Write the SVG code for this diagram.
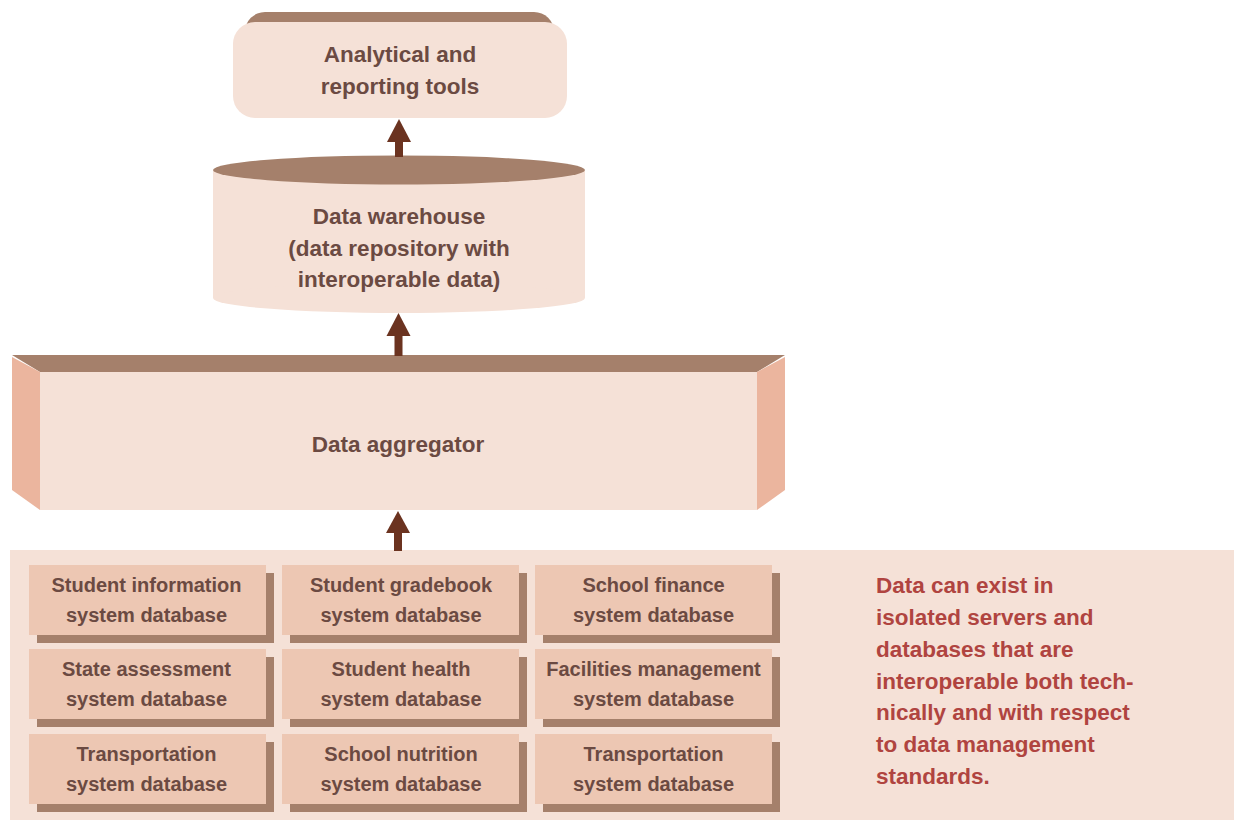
<svg xmlns="http://www.w3.org/2000/svg" width="1234" height="821" viewBox="0 0 1234 821">
<defs>
<style>
.t{font-family:"Liberation Sans",Arial,sans-serif;font-weight:bold;fill:#6b4a42;text-anchor:middle}
.big{font-size:22.5px}
.sm{font-size:20px}
.note{font-family:"Liberation Sans",Arial,sans-serif;font-weight:bold;font-size:22.5px;fill:#b04440}
.dark{fill:#a5806b}
.face{fill:#f5e1d7}
.side{fill:#ebb59e}
.cell{fill:#edc7b3}
.arrow{fill:#6b3320}
</style>
<g id="dbbox">
<rect class="dark" x="8" y="8" width="237" height="70"/>
<rect class="cell" x="0" y="0" width="237" height="70"/>
</g>
</defs>
<rect width="1234" height="821" fill="#ffffff"/>

<g id="sources-panel">
<rect class="face" x="10" y="550" width="1224" height="270"/>
</g>

<g id="tools">
<rect class="dark" x="245" y="12" width="309" height="70" rx="20"/>
<rect class="face" x="233" y="22" width="334" height="96" rx="22"/>
<text class="t big" x="400" y="62">Analytical and</text>
<text class="t big" x="400" y="94">reporting tools</text>
</g>

<g id="warehouse">
<rect class="face" x="213" y="170" width="372" height="128"/>
<ellipse class="face" cx="399" cy="298" rx="186" ry="15"/>
<ellipse class="dark" cx="399" cy="170" rx="186" ry="14.5"/>
<text class="t big" x="399" y="224">Data warehouse</text>
<text class="t big" x="399" y="256">(data repository with</text>
<text class="t big" x="399" y="287">interoperable data)</text>
</g>

<g id="aggregator">
<polygon class="dark" points="12,355 785,355 757,372 40,372"/>
<polygon class="side" points="12,357 40,372 40,510 12,490"/>
<polygon class="side" points="785,357 785,490 757,510 757,372"/>
<rect class="face" x="40" y="372" width="717" height="138"/>
<text class="t big" x="398" y="452">Data aggregator</text>
</g>

<g id="connectors">
<rect class="arrow" x="395" y="138" width="8" height="19"/>
<polygon class="arrow" points="399,119 411,142 387,142"/>
<rect class="arrow" x="394.5" y="333" width="8" height="23"/>
<polygon class="arrow" points="398.5,313 410.5,336 386.5,336"/>
<rect class="arrow" x="394" y="530" width="8" height="21"/>
<polygon class="arrow" points="398,511 410,533 386,533"/>
</g>

<g id="db-student-information">
<use href="#dbbox" x="29" y="565"/>
<text class="t sm" x="146.5" y="592">Student information</text>
<text class="t sm" x="146.5" y="622">system database</text>
</g>
<g id="db-student-gradebook">
<use href="#dbbox" x="282" y="565"/>
<text class="t sm" x="401" y="592">Student gradebook</text>
<text class="t sm" x="401" y="622">system database</text>
</g>
<g id="db-school-finance">
<use href="#dbbox" x="535" y="565"/>
<text class="t sm" x="653.5" y="592">School finance</text>
<text class="t sm" x="653.5" y="622">system database</text>
</g>

<g id="db-state-assessment">
<use href="#dbbox" x="29" y="649"/>
<text class="t sm" x="146.5" y="676">State assessment</text>
<text class="t sm" x="146.5" y="706">system database</text>
</g>
<g id="db-student-health">
<use href="#dbbox" x="282" y="649"/>
<text class="t sm" x="401" y="676">Student health</text>
<text class="t sm" x="401" y="706">system database</text>
</g>
<g id="db-facilities-management">
<use href="#dbbox" x="535" y="649"/>
<text class="t sm" x="653.5" y="676">Facilities management</text>
<text class="t sm" x="653.5" y="706">system database</text>
</g>

<g id="db-transportation-1">
<use href="#dbbox" x="29" y="734"/>
<text class="t sm" x="146.5" y="761">Transportation</text>
<text class="t sm" x="146.5" y="791">system database</text>
</g>
<g id="db-school-nutrition">
<use href="#dbbox" x="282" y="734"/>
<text class="t sm" x="401" y="761">School nutrition</text>
<text class="t sm" x="401" y="791">system database</text>
</g>
<g id="db-transportation-2">
<use href="#dbbox" x="535" y="734"/>
<text class="t sm" x="653.5" y="761">Transportation</text>
<text class="t sm" x="653.5" y="791">system database</text>
</g>

<g id="note">
<text class="note" x="876" y="593">Data can exist in</text>
<text class="note" x="876" y="625">isolated servers and</text>
<text class="note" x="876" y="657">databases that are</text>
<text class="note" x="876" y="689">interoperable both tech-</text>
<text class="note" x="876" y="720">nically and with respect</text>
<text class="note" x="876" y="752">to data management</text>
<text class="note" x="876" y="784">standards.</text>
</g>
</svg>
